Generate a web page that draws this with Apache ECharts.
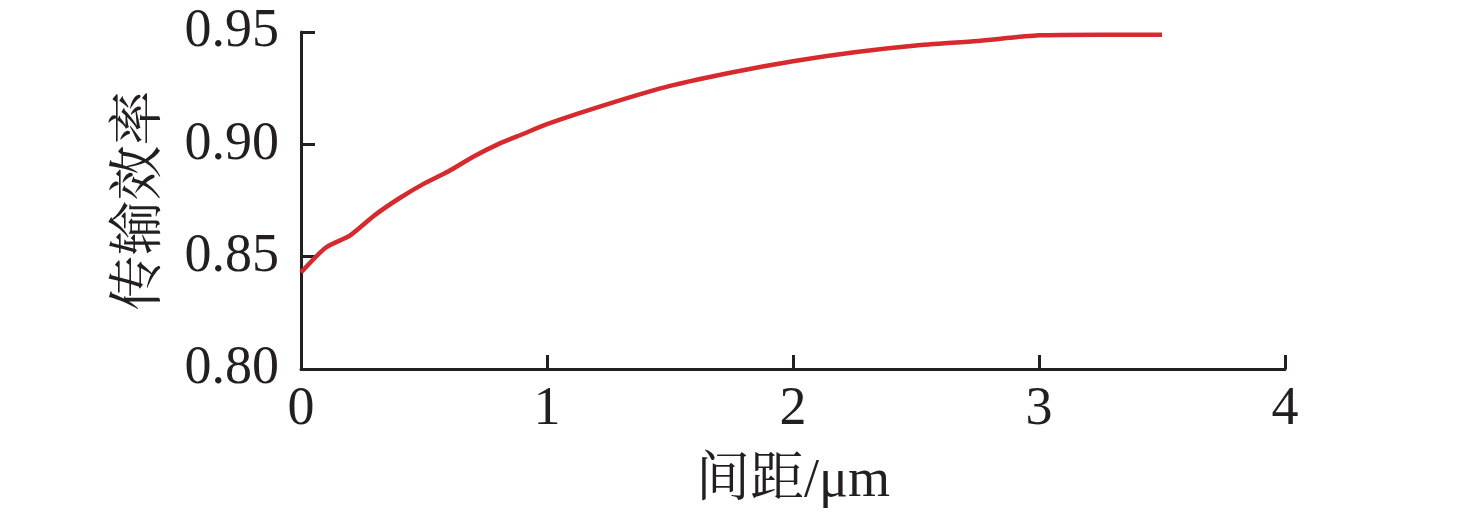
<!DOCTYPE html>
<html><head><meta charset="utf-8">
<script src="https://cdn.jsdelivr.net/npm/echarts@6/dist/echarts.min.js"></script>
<style>html,body{margin:0;padding:0;background:#fff}#c{width:1476px;height:514px}</style>
</head><body><div id="c"></div>
<script>
var xValues = [0, 0.1, 0.2, 0.3, 0.4, 0.5, 0.6, 0.7, 0.8, 0.9, 1.0, 1.25, 1.5, 1.75, 2.0, 2.25, 2.5, 2.75, 3.0, 3.25, 3.5];
var efficiency = [0.843, 0.854, 0.8595, 0.8685, 0.876, 0.8825, 0.888, 0.8945, 0.900, 0.9045, 0.909, 0.918, 0.926, 0.932, 0.937, 0.941, 0.944, 0.946, 0.9485, 0.9488, 0.9488];
var xName = '间距/μm';
var yName = '传输效率';
var axisColor = '#231f20';
var chart = echarts.init(document.getElementById('c'));
chart.setOption({
  animation: false,
  grid: {left: 301, right: 191, top: 32, bottom: 145},
  xAxis: {
    type: 'value', min: 0, max: 4, interval: 1,
    name: xName, nameLocation: 'middle', nameGap: 86,
    nameTextStyle: {fontFamily: 'Liberation Serif, Noto Serif CJK SC, Noto Sans CJK SC', fontSize: 54, color: axisColor},
    axisLine: {show: true, lineStyle: {color: axisColor, width: 3}},
    axisTick: {show: true, inside: true, length: 14, lineStyle: {color: axisColor, width: 3}},
    axisLabel: {fontFamily: 'Liberation Serif', fontSize: 54, color: axisColor, margin: 14},
    splitLine: {show: false}
  },
  yAxis: {
    type: 'value', min: 0.80, max: 0.95, interval: 0.05,
    name: yName, nameLocation: 'middle', nameGap: 133,
    nameTextStyle: {fontFamily: 'Liberation Serif, Noto Serif CJK SC, Noto Sans CJK SC', fontSize: 55, color: axisColor},
    axisLine: {show: true, lineStyle: {color: axisColor, width: 3}},
    axisTick: {show: true, inside: true, length: 14, lineStyle: {color: axisColor, width: 3}},
    axisLabel: {fontFamily: 'Liberation Serif', fontSize: 54, color: axisColor, margin: 22,
      formatter: function(v){return v.toFixed(2);}},
    splitLine: {show: false}
  },
  series: [{
    type: 'line',
    data: xValues.map(function(x, i){return [x, efficiency[i]];}),
    showSymbol: false,
    smooth: 0.2,
    lineStyle: {color: '#d62a2e', width: 4.5},
    itemStyle: {color: '#d62a2e'}
  }]
});
</script></body></html>
